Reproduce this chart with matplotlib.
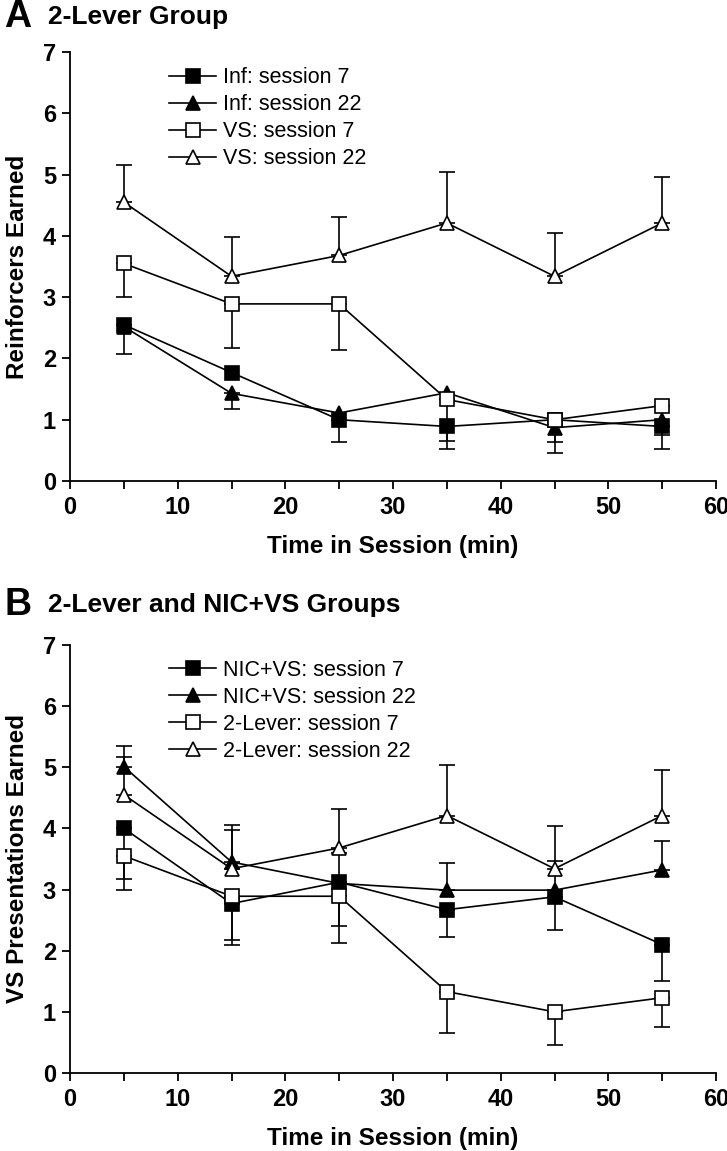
import matplotlib
matplotlib.use("Agg")
import matplotlib.pyplot as plt
import numpy as np
from matplotlib.lines import Line2D
from matplotlib.ticker import MultipleLocator

plt.rcParams["font.family"] = ["Liberation Sans", "DejaVu Sans"]

# time bins (min)
time = [5, 15, 25, 35, 45, 55]

# panel A: 2-lever group, reinforcers earned
inf7 = [2.55, 1.77, 1.00, 0.89, 1.00, 0.89]
inf7_lo = [0.47, 0.00, 0.37, 0.36, 0.37, 0.36]
inf22 = [2.52, 1.43, 1.11, 1.44, 0.87, 1.00]
inf22_lo = [0.00, 0.25, 0.00, 0.00, 0.00, 0.00]
vs7 = [3.55, 2.89, 2.89, 1.33, 1.00, 1.23]
vs7_lo = [0.55, 0.72, 0.76, 0.67, 0.54, 0.48]
vs22 = [4.55, 3.34, 3.68, 4.21, 3.34, 4.21]
vs22_up = [0.61, 0.64, 0.63, 0.83, 0.70, 0.75]

# panel B: VS presentations earned
nic7 = [4.00, 2.77, 3.12, 2.67, 2.88, 2.10]
nic7_lo = [0.82, 0.68, 0.71, 0.44, 0.55, 0.60]
nic22 = [5.01, 3.45, 3.10, 2.99, 2.99, 3.32]
nic22_up = [0.33, 0.61, 0.50, 0.45, 0.47, 0.48]
lever7 = vs7
lever7_lo = vs7_lo
lever22 = vs22
lever22_up = vs22_up

zeros = [0] * len(time)

fig = plt.figure(figsize=(7.27, 11.51), dpi=100)
axA = fig.add_axes([0.0963, 0.5821, 0.8886, 0.3727])
axB = fig.add_axes([0.0963, 0.0678, 0.8886, 0.3719])


def series(ax, y, lo, up, marker, filled, label):
    x = np.asarray(time, float)
    y = np.asarray(y, float)
    lo = np.asarray(lo, float)
    up = np.asarray(up, float)
    keep = (lo > 0) | (up > 0)
    ax.errorbar(x[keep], y[keep], yerr=[lo[keep], up[keep]], fmt="none",
                ecolor="black", elinewidth=1.2, capsize=5.5, capthick=1.2,
                zorder=1)
    ax.plot(x, y, "-", color="black", lw=1.2, marker=marker, ms=10,
            mfc="black" if filled else "white", mec="black", mew=1.2,
            zorder=2)
    return Line2D([], [], color="black", lw=1.2, marker=marker, ms=10,
                  mfc="black" if filled else "white", mec="black", mew=1.2,
                  label=label)


def style(ax, ylabel, handles):
    ax.set_xlim(0, 60)
    ax.set_ylim(0, 7)
    ax.spines["top"].set_visible(False)
    ax.spines["right"].set_visible(False)
    for s in ("left", "bottom"):
        ax.spines[s].set_linewidth(1.3)
    ax.xaxis.set_major_locator(MultipleLocator(10))
    ax.xaxis.set_minor_locator(MultipleLocator(5))
    ax.yaxis.set_major_locator(MultipleLocator(1))
    ax.tick_params(axis="both", which="both", direction="out", width=1.3,
                   labelsize=17)
    ax.tick_params(axis="x", which="both", length=6, pad=5)
    ax.tick_params(axis="y", length=6, pad=4)
    for lab in ax.get_xticklabels() + ax.get_yticklabels():
        lab.set_fontweight("bold")
    ax.set_xlabel("Time in Session (min)", fontsize=17.5, fontweight="bold",
                  labelpad=11)
    ax.set_ylabel(ylabel, fontsize=17.5, fontweight="bold", labelpad=10)
    ax.legend(handles=handles, loc="upper left",
              bbox_to_anchor=(0.14, 0.985), frameon=False, fontsize=15.5,
              handlelength=2.2, handletextpad=0.3, labelspacing=0.28,
              borderaxespad=0)


hA = [series(axA, inf7, inf7_lo, zeros, "s", True, "Inf: session 7"),
      series(axA, inf22, inf22_lo, zeros, "^", True, "Inf: session 22"),
      series(axA, vs7, vs7_lo, zeros, "s", False, "VS: session 7"),
      series(axA, vs22, zeros, vs22_up, "^", False, "VS: session 22")]
style(axA, "Reinforcers Earned", hA)

hB = [series(axB, nic7, nic7_lo, zeros, "s", True, "NIC+VS: session 7"),
      series(axB, nic22, zeros, nic22_up, "^", True, "NIC+VS: session 22"),
      series(axB, lever7, lever7_lo, zeros, "s", False, "2-Lever: session 7"),
      series(axB, lever22, zeros, lever22_up, "^", False, "2-Lever: session 22")]
style(axB, "VS Presentations Earned", hB)

fig.text(0.006, 0.985, "A", fontsize=27, fontweight="bold", va="center")
fig.text(0.066, 0.985, "2-Lever Group", fontsize=19, fontweight="bold",
         va="center")
fig.text(0.006, 0.474, "B", fontsize=27, fontweight="bold", va="center")
fig.text(0.066, 0.474, "2-Lever and NIC+VS Groups", fontsize=19,
         fontweight="bold", va="center")

fig.savefig("out.png", dpi=100)
